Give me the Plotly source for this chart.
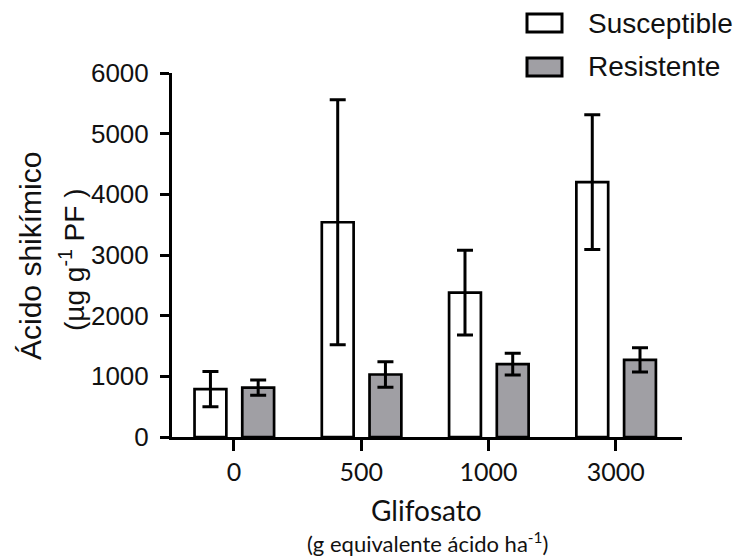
import plotly.graph_objects as go

categories = ["0", "500", "1000", "3000"]
susceptible = [790, 3540, 2380, 4200]
susceptible_err = [290, 2020, 700, 1110]
resistente = [815, 1030, 1200, 1270]
resistente_err = [125, 210, 180, 200]
y_ticks = [0, 1000, 2000, 3000, 4000, 5000, 6000]

# page body has an 8px default margin: figure is drawn at (8, 8)
OFF = 8
W, H = 742 - OFF, 560 - OFF
X0, X1, Y0, Y1 = 172, 682, 73, 437  # plot area in reference pixels
L, R, T, B = X0 - OFF, 742 - X1, Y0 - OFF, 560 - Y1

def px(x):
    return (x - X0) / (X1 - X0)

def py(y):
    return (Y1 - y) / (Y1 - Y0)

gray = "#a09fa4"
txt = "#111111"

fig = go.Figure()
fig.add_trace(go.Bar(
    x=categories, y=susceptible, name="Susceptible",
    width=0.25, offset=-0.31,
    marker=dict(color="white", line=dict(color="black", width=2.7)),
    error_y=dict(type="data", array=susceptible_err, visible=True,
                 color="black", thickness=3, width=8),
    showlegend=False,
))
fig.add_trace(go.Bar(
    x=categories, y=resistente, name="Resistente",
    width=0.25, offset=0.065,
    marker=dict(color=gray, line=dict(color="black", width=2.7)),
    error_y=dict(type="data", array=resistente_err, visible=True,
                 color="black", thickness=3, width=8),
    showlegend=False,
))

fig.update_layout(
    width=W, height=H,
    margin=dict(l=L, r=R, t=T, b=B, pad=0),
    plot_bgcolor="white", paper_bgcolor="white",
    barmode="overlay",
    xaxis=dict(
        type="category", range=[-0.487, 3.52],
        showline=True, linecolor="black", linewidth=3,
        ticks="outside", ticklen=11, tickwidth=3, tickcolor="black",
        showgrid=False, zeroline=False,
        tickfont=dict(family="Lato", size=25, color=txt),
    ),
    yaxis=dict(
        range=[0, 6000], tickvals=y_ticks,
        showline=True, linecolor="black", linewidth=3,
        ticks="outside", ticklen=9, tickwidth=3, tickcolor="black",
        showgrid=False, zeroline=False,
        tickfont=dict(family="Liberation Sans, Arial", size=26, color=txt),
        ticklabelstandoff=6,
    ),
)

ann = []
ann.append(dict(text="Ácido shikímico", x=px(30), y=py(256), xref="paper", yref="paper",
                textangle=-90, showarrow=False, xanchor="center", yanchor="middle",
                font=dict(family="Liberation Sans, Arial", size=30, color=txt)))
ann.append(dict(text="(µg g<sup>-1</sup> PF )", x=px(72), y=py(260), xref="paper", yref="paper",
                textangle=-90, showarrow=False, xanchor="center", yanchor="middle",
                font=dict(family="Liberation Sans, Arial", size=28, color=txt)))
ann.append(dict(text="Glifosato", x=px(426), y=py(510), xref="paper", yref="paper",
                showarrow=False, xanchor="center", yanchor="middle",
                font=dict(family="Lato", size=28, color=txt)))
ann.append(dict(text="(g equivalente ácido ha<sup>-1</sup>)", x=px(427), y=py(542), xref="paper", yref="paper",
                showarrow=False, xanchor="center", yanchor="middle",
                font=dict(family="Lato", size=22, color=txt)))
ann.append(dict(text="Susceptible", x=px(586), y=py(23), xref="paper", yref="paper",
                showarrow=False, xanchor="left", yanchor="middle",
                font=dict(family="Liberation Sans, Arial", size=28, color=txt)))
ann.append(dict(text="Resistente", x=px(586), y=py(66), xref="paper", yref="paper",
                showarrow=False, xanchor="left", yanchor="middle",
                font=dict(family="Liberation Sans, Arial", size=28, color=txt)))
fig.update_layout(annotations=ann)

shapes = [
    dict(type="rect", xref="paper", yref="paper", x0=px(527), x1=px(562), y0=py(32), y1=py(14),
         fillcolor="white", line=dict(color="black", width=3)),
    dict(type="rect", xref="paper", yref="paper", x0=px(527), x1=px(562), y0=py(76), y1=py(58),
         fillcolor=gray, line=dict(color="black", width=3)),
]
fig.update_layout(shapes=shapes)

fig.write_html("out.html")
